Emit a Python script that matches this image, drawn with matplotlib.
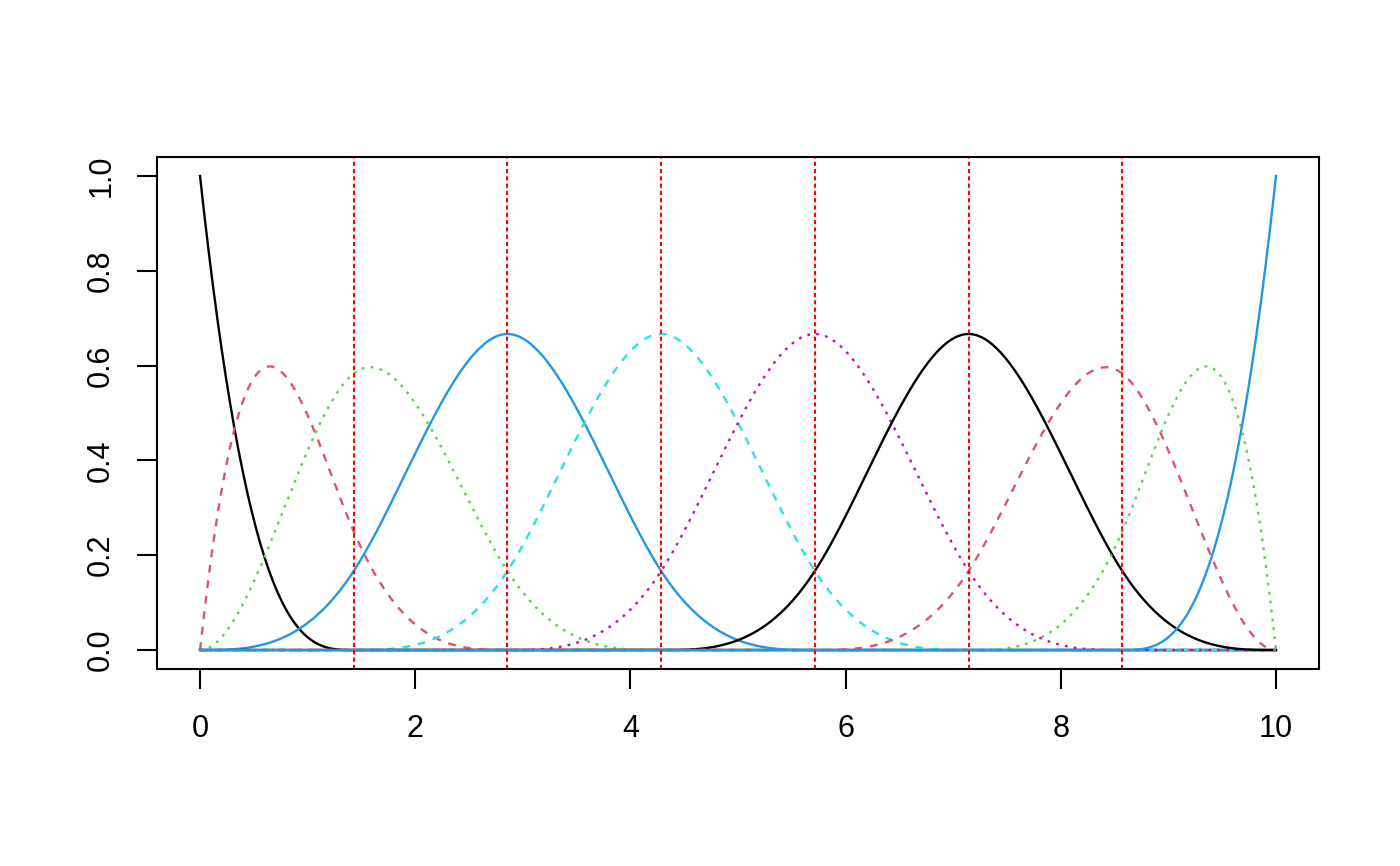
import numpy as np
import matplotlib
matplotlib.use('Agg')
import matplotlib.pyplot as plt

# Spline setup: red dotted lines mark the interior knots
x_range = [0.0, 10.0]
interior_knots = [10 / 7, 20 / 7, 30 / 7, 40 / 7, 50 / 7, 60 / 7]
degree = 3

# matplot style cycles (R defaults)
colors = ['#000000', '#DF536B', '#61D04F', '#2297E6', '#28E2E5', '#CD0BBC']
dashes = [None, (0, (3.3, 3.3)), (0, (1.2, 2.6))]

x_ticks = [0, 2, 4, 6, 8, 10]
y_ticks = [0.0, 0.2, 0.4, 0.6, 0.8, 1.0]
y_labels = ['0.0', '0.2', '0.4', '0.6', '0.8', '1.0']


def bspline_basis(x, knots, k):
    """Cox-de Boor recursion, right end included in the last interval."""
    t = np.asarray(knots)
    n = len(t) - 1
    B = np.zeros((len(x), n))
    for i in range(n):
        B[:, i] = (x >= t[i]) & (x < t[i + 1])
    last = np.where(t < t[-1])[0][-1]
    B[x == t[-1], last] = 1.0
    for d in range(1, k + 1):
        nb = np.zeros((len(x), n - d))
        for i in range(n - d):
            den1 = t[i + d] - t[i]
            den2 = t[i + d + 1] - t[i + 1]
            a = (x - t[i]) / den1 * B[:, i] if den1 > 0 else 0
            b = (t[i + d + 1] - x) / den2 * B[:, i + 1] if den2 > 0 else 0
            nb[:, i] = a + b
        B = nb
    return B


x = np.linspace(x_range[0], x_range[1], 501)
knots = [x_range[0]] * (degree + 1) + interior_knots + [x_range[1]] * (degree + 1)
basis = bspline_basis(x, knots, degree)

plt.rcParams['font.family'] = ['Liberation Sans', 'DejaVu Sans']
fig = plt.figure(figsize=(14, 8.66), dpi=100)
ax = fig.add_axes([157 / 1400, 1 - 669 / 866, (1319 - 157) / 1400, (669 - 157) / 866])

for j in range(basis.shape[1]):
    ls = dashes[j % 3]
    kw = {'linestyle': ls} if ls else {}
    ax.plot(x, basis[:, j], color=colors[j % 6], lw=1.7, **kw)

for k in interior_knots:
    ax.axvline(k, color='red', lw=1.5, linestyle=(0, (2, 1.5)))

ax.set_xlim(-0.4, 10.4)
ax.set_ylim(-0.04, 1.04)
ax.set_xticks(x_ticks)
ax.set_xticklabels([str(v) for v in x_ticks])
ax.set_yticks(y_ticks)
ax.set_yticklabels(y_labels, rotation=90, va='center')
ax.tick_params(length=14.4, width=1.5, labelsize=22)
ax.tick_params(axis='x', pad=18)
ax.tick_params(axis='y', pad=15)
for s in ax.spines.values():
    s.set_linewidth(1.5)

fig.savefig('out.png', dpi=100, facecolor='white')
